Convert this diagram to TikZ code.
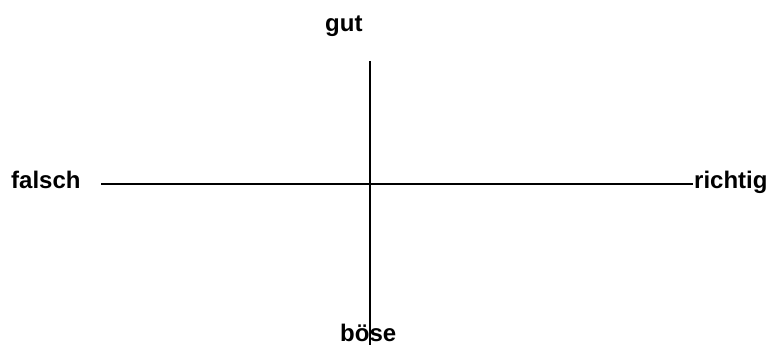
\documentclass[tikz,border=0pt]{standalone}
\usepackage{fontspec}
\setmainfont{Liberation Sans}
\begin{document}
\begin{tikzpicture}[x=1pt,y=-1pt,
  lbl/.style={font=\fontsize{24}{28}\selectfont\bfseries, inner sep=0pt, anchor=base west},
  axis/.style={draw=black, line width=1.3pt}]
\useasboundingbox (0,0) rectangle (769,345);
\node[lbl] (gut) at (325,32) {gut};
\node[lbl] (falsch) at (11,188) {falsch};
\node[lbl] (richtig) at (694,188) {richtig};
\node[lbl] (boese) at (340,341.5) {böse};
\coordinate (top) at (370,61);
\coordinate (bot) at (370,345);
\coordinate (left) at (101,184);
\coordinate (right) at (693,184);
\draw[axis] (top) -- (bot);
\draw[axis] (left) -- (right);
\end{tikzpicture}
\end{document}
